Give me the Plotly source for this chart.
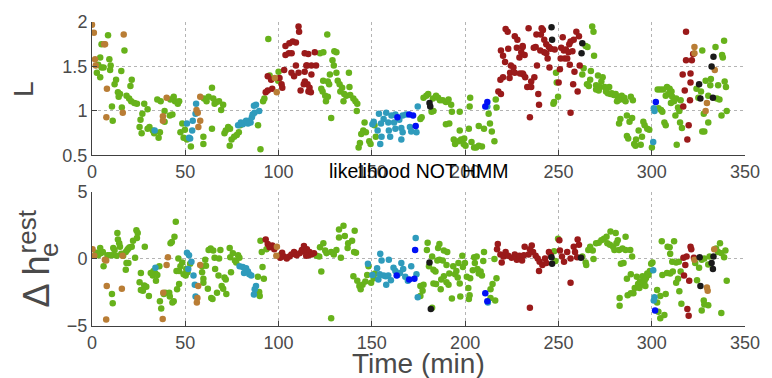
import plotly.graph_objects as go

# ---------------- data: top panel (L) ----------------
top_green_t = [8.6,5.1,17.4,4.4,9.3,3.3,5.1,6.2,10,2.6,4.4,9.7,15.7,12.9,12.1,21.3,20.6,13.9,15,18.5,19.9,21,22.7,24.1,14.3,16,10.7,11.1,
               28,27,29.8,26,25.5,26.6,29.8,30.8,32.6,33.3,35.7,36.4,35,36.8,38.9,38.9,41.7,43.1,43.8,44.5,46,46.7,42,48.4,47.4,49.1,50.9,53,49.8,
               60,61.4,62.5,64.3,65,65.7,66.7,68.1,69.2,70.3,59.7,59.7,64.3,71,71.7,73,74,74.8,73.8,76.2,77.6,78.7,79.4,89,90.3,91.7,92.4,94.5,95.2,100,99.8,
               126.1,122.2,124,129.9,131,128.9,129.6,127.5,131,137.7,123.9,126.4,127.1,122.9,123.6,131.7,132.7,134.1,133.1,138,135.2,136.3,138.4,140.1,141.2,142.2,134.8,125.4,141.9,128.2,125,126.4,
               146.1,145.4,146.8,144.3,143.6,142.9,148.6,149.3,151.4,152.1,
               176,176.7,177.7,179.2,180.2,182.7,184.4,185.5,186.5,188,189.7,191.1,192.5,183,182,192.9,197.1,189.7,191.5,202.7,202.4,197.1,193.9,194.6,196.4,197.8,199.5,199.2,200.2,203.4,204.8,205.9,207.3,209,202,207.3,210.1,213.3,214.3,215.7,212.6,216.4,216.8,
               268.1,268.8,264.6,265.6,269.1,248.7,249.1,249.8,247.7,247.3,263.5,267.4,262.8,271.2,273.7,267,265.3,273,266.3,270.2,272.3,277.2,274.8,270.2,271.6,275.5,276.5,277.9,278.6,279.7,280.7,281.8,282.8,283.9,284.6,285.3,286,288.8,289.9,281.4,282.1,
               286.7,283.2,288.1,289.5,282.5,295.5,296.2,297.6,298.7,293,294.8,286.7,287.4,291.6,290.6,291.3,294.1,300.1,
               303.2,304.6,306.1,308.2,309.6,310.6,307.5,308.9,311,313.1,315.5,310.3,312,314.1,314.8,303.6,305,305.7,312.7,306.8,307.5,315.2,316.2,313.4,
               327.1,334.2,338.8,337.7,338.1,331.7,328.9,331.4,335.6,339.1,339.8,324,326.4,330.3,334.9,336.3,325,327.9,330.3,337.4,340.2,327.1,328.2]
top_green_L = [1.85,1.75,1.68,1.60,1.58,1.52,1.49,1.49,1.51,1.43,1.38,1.46,1.45,1.35,1.30,1.35,1.28,1.21,1.19,1.17,1.14,1.11,1.09,1.08,1.16,1.04,1.05,0.89,
               1.08,0.97,1.02,0.90,0.82,0.75,0.80,0.82,0.78,0.75,0.70,0.76,1.13,1.11,1.00,0.88,0.95,0.96,1.16,1.11,1.08,1.11,1.13,0.86,0.76,0.70,0.68,0.60,0.79,
               1.14,1.11,1.16,1.26,1.14,1.08,1.10,1.11,1.01,1.07,0.71,0.63,0.80,0.75,0.78,0.82,0.80,0.68,0.61,0.71,0.73,0.76,0.84,0.84,0.57,1.11,1.14,1.81,1.40,1.44,1.34,
               1.86,1.65,1.66,1.67,1.66,1.57,1.51,1.41,1.43,1.43,1.34,1.33,1.30,1.25,1.22,1.34,1.30,1.26,1.22,1.27,1.19,1.17,1.18,1.14,1.11,1.08,1.11,1.11,1.00,0.92,1.17,1.16,
               0.87,0.78,0.76,0.74,0.64,0.59,0.66,0.63,0.84,0.71,
               0.91,0.93,1.15,1.17,1.19,1.14,1.17,1.15,1.12,1.12,1.10,1.13,1.07,1.00,0.99,0.99,0.99,0.85,0.86,1.15,1.05,0.78,0.68,0.63,0.66,0.68,0.69,0.63,0.61,0.65,0.59,0.59,0.61,0.60,0.80,0.83,0.80,0.86,0.77,0.66,0.97,1.13,1.04,
               1.95,1.89,1.73,1.72,1.62,1.43,1.32,1.16,1.10,1.08,1.48,1.45,1.41,1.40,1.38,1.35,1.30,1.33,1.28,1.29,1.27,1.27,1.27,1.24,1.23,1.22,1.20,1.19,1.20,1.18,1.19,1.16,1.14,1.17,1.13,1.15,1.11,1.16,1.12,1.11,1.12,
               0.95,0.91,0.88,0.92,0.86,0.88,0.84,0.80,0.79,0.78,0.71,0.72,0.69,0.68,0.63,0.61,0.62,0.59,
               1.24,1.24,1.24,1.27,1.25,1.22,1.17,1.19,1.16,1.14,1.12,1.09,1.11,1.04,1.00,1.03,1.01,0.99,0.95,0.87,0.84,0.87,0.81,0.62,
               1.68,1.72,1.79,1.63,1.60,1.36,1.34,1.29,1.29,1.33,1.27,1.25,1.22,1.17,1.14,1.13,1.15,0.97,0.87,0.95,1.00,0.77,0.77]

top_red_t = [94.2,96,93.1,94.2,96.6,100.5,101.6,102,103,103.7,105.8,107.6,109.3,103.7,105.5,107,110.7,111,114,114.9,114,113.5,111.8,109.3,108.3,106.9,110.7,116,
             115.9,119.4,115.2,117.6,120.1,117.6,114.1,115.5,116.6,117.3,
             221.7,222.8,226.6,228,219.2,220.3,223.1,227.7,230.8,230.1,229.1,221.4,224.5,225.9,224.1,226.6,229.4,231.2,220.3,218.9,217.8,219.2,223.8,
             234,241,241.7,238.2,240.6,242.4,243.5,244.9,245.9,252.3,255.8,256.5,258.2,259.6,261,230.8,231.9,236.8,237.8,240.3,242.4,243.5,244.2,248,251.5,252.9,254,255.4,257.5,251.2,253.3,254.7,250.8,245.2,238.5,256.1,258.6,261.4,230.8,232.2,237.1,235.4,233.3,235.4,239.2,239.6,250.1,257.9,260.3,234.7,256.5,
             318.4,318.4,321.5,322.2,316.6,320.8,320.8,317.7,320.5,316.9,319.8,319.1]
top_red_L = [1.39,1.35,1.21,1.23,1.25,1.37,1.30,1.26,1.46,1.73,1.76,1.78,1.77,1.63,1.65,1.65,1.95,1.89,1.65,1.51,1.44,1.30,1.23,1.51,1.39,1.43,1.43,1.22,
             1.64,1.66,1.51,1.51,1.51,1.41,1.33,1.30,1.26,1.21,
             1.92,1.89,1.84,1.80,1.68,1.62,1.70,1.71,1.72,1.66,1.60,1.55,1.51,1.49,1.43,1.43,1.42,1.41,1.38,1.35,1.22,1.19,1.37,
             1.93,1.93,1.91,1.86,1.86,1.80,1.75,1.72,1.70,1.83,1.75,1.78,1.80,1.89,1.84,1.73,1.63,1.71,1.72,1.68,1.66,1.65,1.59,1.69,1.71,1.68,1.69,1.66,1.67,1.59,1.59,1.59,1.47,1.49,1.51,1.52,1.44,1.51,1.42,1.38,1.38,1.33,1.27,1.27,1.19,1.07,1.32,1.30,1.22,0.93,0.98,
             1.89,1.57,1.57,1.64,1.41,1.42,1.32,1.23,1.12,1.05,0.84,0.68]

top_teal_t = [33.6,50.9,54.0,55.5,55.8,53.7,52,52.6,78.3,79.8,80.8,81.9,82.6,83.6,84.3,85,85.7,87.1,86.8,87.9,89.6,86.1,
              150.3,153.8,157.7,160.5,162.6,166.5,168.3,174.6,156.3,158.8,161.9,164.7,153.1,155.2,159.1,159.8,162.6,165.8,166.5,170.4,171.1,173.9,165.8,154.5,151,154.9,
              211.9,301.1,301.5,300.8]
top_teal_L = [0.78,0.86,0.89,0.97,1.08,0.78,0.70,0.69,0.84,0.87,0.85,0.87,0.89,0.86,0.89,0.87,0.93,0.98,1.06,1.07,1.00,0.96,
              0.85,0.97,0.98,0.95,0.96,0.95,0.96,1.05,0.91,0.87,0.87,0.90,0.78,0.71,0.78,0.71,0.80,0.81,0.76,0.82,0.77,0.76,0.68,0.63,0.88,0.86,
              1.05,1.03,1.00,0.65]

top_brown_t = [0,1,17,6.5,7,1.6,2,8,16.5,7.7,40,38,38,56,56.7,58,57,58,98,99,322.9,322.9,333.8,329.6,328.9]
top_brown_L = [1.97,1.88,1.86,1.75,1.75,1.58,1.51,1.25,0.98,0.93,1.15,0.94,0.89,1.01,0.98,0.89,0.82,1.16,1.37,1.21,1.72,1.65,1.46,1.09,1.00]

top_blue_t = [163.7,170,172.1,173.5,211.9,210.8,302.2]
top_blue_L = [0.93,0.96,0.95,0.83,1.10,1.05,1.10]

top_black_t = [180.9,181.3,246.3,246.6,262.8,262.4,333.1,332.1,325.4,326.1,332.8]
top_black_L = [1.09,1.05,1.94,1.80,1.76,1.65,1.61,1.50,1.30,1.14,1.15]

# ---------------- data: bottom panel (delta h_e^rest) ----------------
bot_green_t = [2.3,3.3,4.4,4.8,5.8,6.2,8.3,9.3,10.7,11.4,12.1,13.2,13.6,13.9,14.6,15,15.7,16.7,18.1,18.9,19.5,20.2,21.3,22,23.8,24.5,24.1,23.1,18.5,19.5,18.1,28.3,10.7,11.1,
               26.2,25.5,26.2,27.3,28,29.1,30.5,31.5,32.6,33,34,35,36.1,34.3,36.4,37.1,38.5,39.3,41.4,41.7,43.1,43.8,42.1,42.8,44.2,44.9,46.3,45.3,46.7,47.4,48.4,49.1,50.2,50.5,46.7,45.6,51.2,52.6,
               60.7,61.1,59,59,59.7,59.7,62.5,63.6,65,65.7,66,67.8,68.1,68.8,69.5,70.3,71,71.7,72,73.8,74.1,75.5,76.6,77.3,78.3,79,62.1,63.9,64.6,67,74.5,88.9,92.1,89.6,89.9,91.4,90.3,91,93.5,100.5,
               122.2,124,125,125.7,128.2,129.6,131,132.4,134.8,132.4,135.5,137.3,139.4,140.8,137,140.5,141.5,133.4,122.9,128.2,121.8,120.4,
               140.1,142.2,143.3,144,145,146.5,147.5,148.2,149.6,151,151.7,
               176,177.2,177.7,176,179.9,179.5,180.6,182.3,183,184.1,185.5,186.2,185.1,186.2,188,188.6,190.4,190,183,184.4,187.2,188.6,190,191.1,191.5,193.6,194.6,195.3,196,197.1,192.9,186.9,196.4,198.5,198.8,199.9,200.9,201.7,202.4,202,197.4,202.7,204.1,204.8,206.2,205.2,206.6,207.3,208.3,209,210.1,209.7,213.6,214.7,215.7,216.8,216.1,213.6,182.3,
               249.8,247.7,248.4,262.8,264.6,264.9,266,267,268.4,268.8,270.2,271.6,273,274.4,275.8,277.9,280.7,276.2,277.6,279.3,281.1,281.8,280,282.5,284.3,286,286,288.5,289.5,283.5,284.9,288.8,286.7,287.1,282.8,282.8,290.2,290.9,292,292.7,293.7,294.4,295.1,296.2,296.9,297.6,298.3,299,299.7,296.6,293.4,288.8,
               302.9,304.6,307.5,302.9,303.6,304.6,306.8,305.4,308.5,309.6,309.9,312,311,313.1,314.5,311.3,309.9,308.2,305.7,314.1,313.1,315.5,314.8,315.9,324.3,325.4,326.8,328.2,327.9,328.2,330.3,326.8,337.3,340.2,330.3,331,334.5,335.6,336.6,337.3,338.8,339.5,323.3,300.4]
bot_green_h = [0.46,0.27,0.81,0.42,0.51,-0.56,0.27,0.27,0.27,0.81,0.66,0.22,1.93,1.44,1.15,0.90,0.37,0.22,0.51,0.66,0.76,0.86,0.90,1.34,2.13,1.93,1.54,0.07,-0.32,-0.32,-0.81,0.90,-2.62,-3.30,
               -1.05,-1.74,-2.32,-2.37,-1.98,-2.08,-2.76,-1.05,-1.25,-0.90,-1.10,-1.20,-0.56,-1.64,-3.15,-3.69,-2.62,-2.52,-2.52,-2.81,-3.25,-3.15,1.15,1.25,1.64,2.76,0.02,-0.90,-0.90,-0.56,-0.27,-1.15,-1.25,-0.76,-1.88,-2.27,-1.00,-0.37,
               -0.07,-0.51,-0.56,-1.00,-1.49,-1.78,0.66,0.76,0.61,0.07,-0.76,-1.25,0.02,0.66,-2.03,-2.22,-1.39,-1.54,-2.62,0.81,0.12,0.42,-0.12,-0.27,0.27,0.07,-2.22,-2.91,-3.00,-2.52,-1.00,-1.34,-1.49,-2.47,-2.76,-0.61,1.34,0.51,0.71,0.22,
               0.86,1.15,0.61,0.42,0.51,0.32,0.66,2.18,2.47,1.59,1.69,1.15,1.34,2.08,0.81,0.51,0.46,0.07,-0.95,-4.43,0.17,0.22,
               -1.30,-1.64,-2.03,-2.27,-1.93,-1.69,-1.20,-0.56,-1.78,-1.44,-1.10,
               -2.03,-2.37,-1.93,-2.76,1.20,0.66,-0.56,0.17,-0.81,-0.95,0.81,1.10,-0.12,-0.07,-0.12,0.61,0.51,-0.46,-1.83,-1.88,-1.54,-1.30,-1.74,-1.93,-1.10,-0.56,-1.15,-0.90,-1.39,-1.83,-2.96,-2.27,-0.32,0.22,-0.61,-0.32,-1.34,-2.18,-2.71,-3.00,-2.81,-1.44,-0.86,0.12,0.17,-0.32,-0.76,-1.10,-0.95,-1.25,0.51,-0.17,-2.27,-1.88,-0.02,-1.44,-3.10,-2.91,-3.64,
               1.49,0.56,-0.17,0.17,-0.27,-0.46,0.66,0.90,0.61,-0.02,1.15,1.20,1.39,1.49,1.64,2.03,1.93,1.15,1.05,0.90,1.15,1.39,0.66,0.66,0.76,1.64,0.66,0.66,0.17,-0.37,-0.32,-1.15,-1.49,-2.71,-2.91,-3.50,-2.57,-2.18,-1.34,-1.88,-1.69,-1.93,-1.30,-1.64,-1.44,-1.10,-1.20,-0.90,-0.37,-2.03,-2.18,-2.57,
               -2.32,-2.76,-2.61,-3.25,-3.94,-4.43,-4.18,1.30,0.90,0.86,0.37,1.30,-0.22,-0.27,-0.22,-0.95,-1.10,-1.05,-1.20,-1.49,-1.78,-0.95,-2.42,-3.35,-1.59,-0.66,-0.07,0.02,-3.10,-3.40,-3.45,-3.84,-4.03,-1.64,-0.42,0.17,0.76,0.51,1.15,0.42,0.12,0.61,-0.32,-0.27]

bot_red_t = [93.1,94.2,95.2,96.6,97.7,101.9,103,104.4,105.8,106.9,108.3,109.7,111.4,112.5,113.6,114.6,116,100.9,115.2,116.6,117.6,114.8,119,
             217.5,217.1,218.9,219.6,220.6,221.7,223.1,224.9,226.6,227.7,229.1,230.5,231.5,
             231.9,234.7,235.7,234,236.4,237.8,238.9,239.9,239.6,241.4,242.8,243.5,244.9,245.9,234.7,250.5,250.8,251.9,253,254.7,256.5,258.2,258.9,260.3,261,260,256.5,
             317,318,318.7,320.8,321.2,322.6,317.3,320.1,319.1,319.8]
bot_red_h = [1.44,1.10,0.86,1.00,0.71,0.46,0.17,0.02,0.17,0.32,0.51,0.27,0.42,0.66,0.95,0.51,0.27,0.07,0.71,0.51,0.32,0.22,0.42,
             1.10,0.71,0.32,-0.27,0.17,0.51,0.22,0.07,0.32,-0.07,0.22,-0.12,0.27,
             0.90,0.71,1.00,0.32,0.51,0.22,0.02,-0.22,-0.90,-0.46,0.02,-0.32,0.51,0.27,-3.64,1.39,0.61,0.17,-0.22,0.51,0.02,0.90,0.51,1.44,1.05,0.12,-1.78,
             0.07,-0.46,0.17,0.90,0.71,0.07,-1.25,-1.64,-3.74,-4.23]

bot_teal_t = [34,50.9,52,53.3,51.6,54.4,55.1,55.5,79.1,80.8,82.6,83.6,84.3,85.4,81.5,87.9,87.2,86.8,
              147.9,150.3,152.8,154.5,155.2,154.2,156.3,157.4,159.1,158.8,160.2,157.7,161.6,162.6,163.7,165.1,165.8,166.8,167.9,169.3,171.1,173.9,173.5,174.6,153.5,
              212.2,300.8,301.5,301.1]
bot_teal_h = [-0.66,0.46,0.27,-0.22,-0.76,-1.25,-1.93,-2.81,-0.56,-0.61,-0.71,-0.95,-1.15,-1.25,-1.05,-2.03,-2.27,-2.66,
              -0.37,-1.20,-0.71,0.37,-0.12,-1.15,-1.25,-1.30,-0.07,-1.25,-1.59,-1.93,-0.66,-0.90,-1.20,-1.05,-0.32,-0.76,-1.34,-1.64,-0.56,-1.15,1.54,-2.86,-1.54,
              -3.25,-0.86,-2.86,-3.10]

bot_brown_t = [0.3,1.2,6.9,7.6,16.4,7.9,16,7.6,37.9,38.2,40.7,40,58,56.9,56.5,56.2,99.1,98.8,329.6,330,333.5,322.9]
bot_brown_h = [0.71,0.22,-0.07,-0.12,0.22,-2.03,-2.22,-4.52,-4.47,-2.52,0.12,-0.46,-0.46,-2.03,-2.91,-3.25,0.90,0.22,-2.13,-2.37,0.71,-0.07]

bot_blue_t = [163.3,170,172.8,173.2,210.8,211.9,301.8]
bot_blue_h = [-1.25,-1.54,-1.49,0.66,-2.57,-3.15,-3.84]

bot_black_t = [180.9,181.6,246.3,246.6,262.1,325.7,326.1,333.1,332.1,332.8]
bot_black_h = [-0.27,-3.74,0.12,-0.37,0.07,0.12,-2.03,0.17,-0.32,-0.76]

x_ticks = [0, 50, 100, 150, 200, 250, 300, 350]
top_y_ticks = [0.5, 1, 1.5, 2]
top_y_labels = ["0.5", "1", "1.5", "2"]
bot_y_ticks = [-5, 0, 5]
bot_y_labels = ["\u22125", "0", "5"]

C_GREEN = "#67b21b"
C_RED = "#9a1a1a"
C_TEAL = "#2f9bbc"
C_BROWN = "#b97d35"
C_BLUE = "#0010f5"
C_BLACK = "#1a1a1a"

FONT = "Liberation Sans"
TICKC = "#4a4a4a"

fig = go.Figure()
groups_top = [(top_green_t, top_green_L, C_GREEN), (top_teal_t, top_teal_L, C_TEAL),
              (top_red_t, top_red_L, C_RED), (top_brown_t, top_brown_L, C_BROWN),
              (top_blue_t, top_blue_L, C_BLUE), (top_black_t, top_black_L, C_BLACK)]
groups_bot = [(bot_green_t, bot_green_h, C_GREEN), (bot_teal_t, bot_teal_h, C_TEAL),
              (bot_red_t, bot_red_h, C_RED), (bot_brown_t, bot_brown_h, C_BROWN),
              (bot_blue_t, bot_blue_h, C_BLUE), (bot_black_t, bot_black_h, C_BLACK)]
for xs, ys, c in groups_top:
    fig.add_trace(go.Scatter(x=xs, y=ys, mode="markers", xaxis="x", yaxis="y",
                             marker=dict(color=c, size=6.5, line=dict(width=0)), cliponaxis=True))
for xs, ys, c in groups_bot:
    fig.add_trace(go.Scatter(x=xs, y=ys, mode="markers", xaxis="x2", yaxis="y2",
                             marker=dict(color=c, size=6.5, line=dict(width=0)), cliponaxis=True))

axis_common = dict(showgrid=True, gridcolor="#b4b4b4", griddash="dot", gridwidth=1,
                   showline=True, linecolor="#404040", linewidth=1, ticks="inside",
                   ticklen=5, tickcolor="#404040", zeroline=False,
                   tickfont=dict(family=FONT, size=18, color=TICKC))

fig.update_layout(
    width=772, height=378, margin=dict(l=92, r=17, t=16, b=52),
    paper_bgcolor="white", plot_bgcolor="white", showlegend=False,
    xaxis=dict(domain=[0, 1], anchor="y", range=[0, 350], tickvals=x_ticks, **axis_common),
    yaxis=dict(domain=[0.561, 1], anchor="x", range=[0.5, 2], tickvals=top_y_ticks,
               ticktext=top_y_labels, **axis_common),
    xaxis2=dict(domain=[0, 1], anchor="y2", range=[0, 350], tickvals=x_ticks, **axis_common),
    yaxis2=dict(domain=[0, 0.442], anchor="x2", range=[-5, 5], tickvals=bot_y_ticks,
                ticktext=bot_y_labels, **axis_common),
    annotations=[
        dict(text="L", xref="paper", yref="paper", x=-0.104, y=0.78, textangle=-90,
             showarrow=False, font=dict(family=FONT, size=28, color=TICKC),
             xanchor="center", yanchor="middle"),
        dict(text="Time (min)", xref="paper", yref="paper", x=0.5, y=-0.122,
             showarrow=False, font=dict(family=FONT, size=28, color=TICKC),
             xanchor="center", yanchor="middle"),
        dict(text="likelihood NOT HMM", xref="paper", yref="paper", x=0.5, y=0.51,
             showarrow=False, font=dict(family=FONT, size=19.5, color="black"),
             xanchor="center", yanchor="middle"),
        dict(text="\u0394 h", xref="paper", yref="paper", x=-0.085, y=0.148, textangle=-90,
             showarrow=False, font=dict(family=FONT, size=36, color=TICKC),
             xanchor="center", yanchor="middle"),
        dict(text="e", xref="paper", yref="paper", x=-0.066, y=0.25, textangle=-90,
             showarrow=False, font=dict(family=FONT, size=26, color=TICKC),
             xanchor="center", yanchor="middle"),
        dict(text="rest", xref="paper", yref="paper", x=-0.1, y=0.31, textangle=-90,
             showarrow=False, font=dict(family=FONT, size=26, color=TICKC),
             xanchor="center", yanchor="middle"),
    ],
)

fig.write_html("out.html")
